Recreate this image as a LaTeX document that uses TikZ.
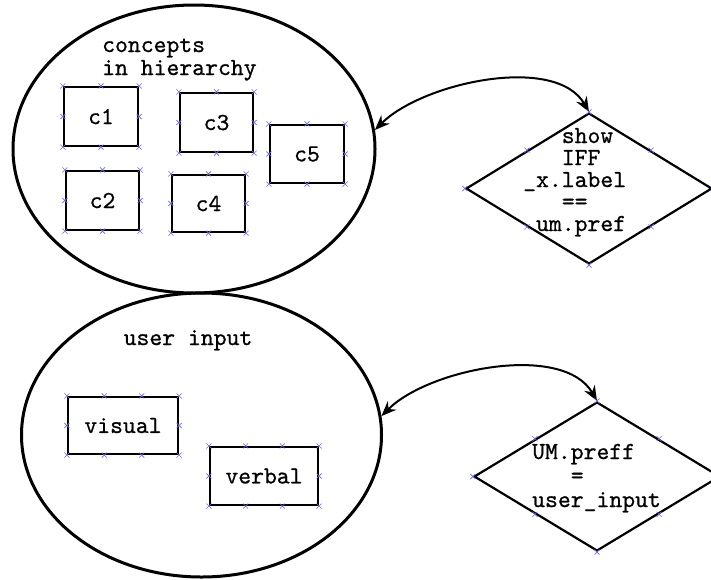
\documentclass[tikz,border=0pt]{standalone}
\usepackage{fontspec}
\newfontfamily\mytt{lmmono10-regular}[Extension=.otf, FakeBold=0.7]
\usetikzlibrary{shapes.geometric,arrows.meta,calc}
\definecolor{xmcol}{RGB}{105,105,225}
\tikzset{
  lbl/.style={font=\mytt\fontsize{24.5}{23}\selectfont, inner sep=0pt, align=left},
  cbox/.style={draw, line width=2.2pt, inner sep=0pt, font=\mytt\fontsize{24.5}{23}\selectfont},
  oval/.style={draw, ellipse, line width=3pt, inner sep=0pt},
  dia/.style={draw, diamond, line width=2.2pt, inner sep=0pt},
  link/.style={arrows={Stealth[length=15pt,width=12pt,inset=5pt]-Stealth[length=15pt,width=12pt,inset=5pt]}, line width=2pt},
  xm/.style={draw=xmcol, line width=0.6pt}
}
\newcommand\xmk[1]{\draw[xm] (#1) ++(-2.5,-2.5) -- ++(5,5) ++(-5,0) -- ++(5,-5);}
\begin{document}
\begin{tikzpicture}[x=1pt,y=1pt]
\useasboundingbox (0,0) rectangle (711,-579);
% ellipses
\node[oval, minimum width=362pt, minimum height=288pt] (e1) at (194,-149) {};
\node[oval, minimum width=360pt, minimum height=284pt] (e2) at (201.5,-435) {};
% titles
\node[lbl, anchor=base west] (t1) at (102,-75) {concepts\\in hierarchy};
\node[lbl, anchor=base] (t2) at (188,-345) {user input};
% concept boxes
\node[cbox, minimum width=74pt, minimum height=59pt] (c1) at (101,-116.5) {c1};
\node[cbox, minimum width=73pt, minimum height=59pt] (c3) at (216.5,-122.5) {c3};
\node[cbox, minimum width=74pt, minimum height=58pt] (c5) at (307,-154) {c5};
\node[cbox, minimum width=73pt, minimum height=59pt] (c2) at (102.5,-200.5) {c2};
\node[cbox, minimum width=73pt, minimum height=57pt] (c4) at (208.5,-203.5) {c4};
% input boxes
\node[cbox, minimum width=110pt, minimum height=57pt] (vis) at (123,-425.5) {visual};
\node[cbox, minimum width=108pt, minimum height=58pt] (verb) at (264,-476) {verbal};
% diamonds
\node[dia, minimum width=246pt, minimum height=151pt] (d1) at (589,-188.5) {};
\node[dia, minimum width=246pt, minimum height=149pt] (d2) at (597,-476.5) {};
\node[lbl, anchor=base west, font=\mytt\fontsize{24.5}{22}\selectfont] (d1t) at (523,-231)
  {\hphantom{xxx}show\\\hphantom{xxx}IFF\\\_x.label\\\hphantom{xxx}==\\\hphantom{x}um.pref};
\node[lbl, anchor=base west, font=\mytt\fontsize{24.5}{24}\selectfont] (d2t) at (532,-507)
  {UM.preff\\\hphantom{xxx}=\\user\_input};
% connectors
\draw[link] (e1.6) to[out=45,in=120,looseness=0.8] (d1.north);
\draw[link] (e2.6) to[out=45,in=120,looseness=0.8] (d2.north);
% connection marks
\foreach \n in {c1,c2,c3,c4,c5}{
  \foreach \a in {north west,north,north east,east,south east,south,south west,west}{\xmk{\n.\a}}
}
\foreach \n in {vis,verb}{
  \foreach \a in {north west,north east,east,south east,south west,west}{\xmk{\n.\a}}
  \foreach \t in {0.3333,0.6667}{
    \xmk{$(\n.north west)!\t!(\n.north east)$}
    \xmk{$(\n.south west)!\t!(\n.south east)$}
  }
}
\foreach \n in {d1,d2}{
  \foreach \a in {north,south,west,east}{\xmk{\n.\a}}
  \xmk{$(\n.north)!0.5!(\n.west)$}
  \xmk{$(\n.north)!0.5!(\n.east)$}
  \xmk{$(\n.south)!0.5!(\n.west)$}
  \xmk{$(\n.south)!0.5!(\n.east)$}
}
\end{tikzpicture}
\end{document}
